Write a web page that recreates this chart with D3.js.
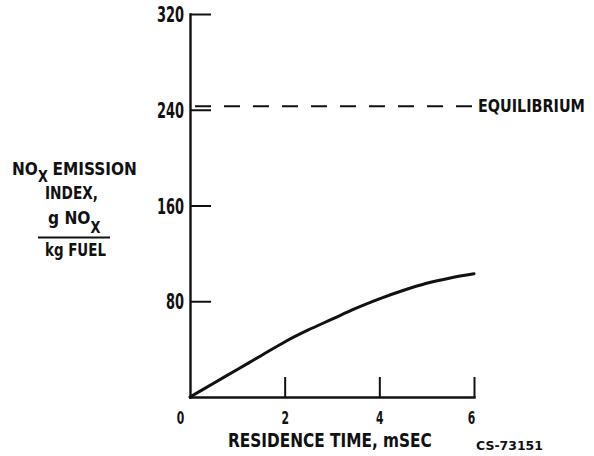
<!DOCTYPE html>
<html>
<head>
<meta charset="utf-8">
<script src="https://cdn.jsdelivr.net/npm/d3@7"></script>
<style>
  html, body { margin: 0; padding: 0; background: #fff; }
  svg { display: block; }
  text { font-family: "Liberation Sans Narrow", "DejaVu Sans Condensed", sans-serif; font-weight: bold; fill: #111; }
</style>
</head>
<body>
<svg id="chart" width="594" height="456"></svg>
<script>
// NOx emission index versus residence time
const residenceTime = [0, 0.5, 1, 1.5, 2, 2.5, 3, 3.5, 4, 4.5, 5, 5.5, 6];
const emissionIndex = [0, 11.5, 23, 34.5, 46, 56, 65, 74, 82, 89, 95, 99.5, 103];
const equilibriumValue = 243;
const xTicks = [0, 2, 4, 6];
const yTicks = [80, 160, 240, 320];

const svg = d3.select("#chart");
const ink = "#111";

// Place a text block with its left edge at (x, y) and squeeze it to the given width.
function fitText(sel, x, y, width) {
  const w = sel.node().getBBox().width;
  sel.attr("transform", `translate(${x},${y}) scale(${width / w},1)`);
  return sel;
}

const x = d3.scaleLinear().domain([0, 6]).range([190, 474]);
const y = d3.scaleLinear().domain([0, 320]).range([397, 14]);

// y axis with inward ticks
const yAxis = svg.append("g")
  .attr("transform", `translate(${x(0)},0)`)
  .call(d3.axisLeft(y).tickValues(yTicks).tickFormat(d3.format("d"))
    .tickSizeInner(-21).tickSizeOuter(0).tickPadding(6));
yAxis.select(".domain").attr("stroke", ink).attr("stroke-width", 2.4);
yAxis.selectAll(".tick line").attr("stroke", ink).attr("stroke-width", 2);
yAxis.selectAll(".tick text").attr("font-size", 21).attr("fill", ink).attr("font-family", null)
  .attr("dy", "0.36em")
  .attr("textLength", d => d >= 100 ? 27 : 18).attr("lengthAdjust", "spacingAndGlyphs");

// x axis with inward ticks
const xAxis = svg.append("g")
  .attr("transform", `translate(0,${y(0)})`)
  .call(d3.axisBottom(x).tickValues(xTicks).tickFormat(d3.format("d"))
    .tickSizeInner(-20).tickSizeOuter(0).tickPadding(15));
xAxis.select(".domain").attr("stroke", ink).attr("stroke-width", 2.4);
xAxis.selectAll(".tick line").attr("stroke", ink).attr("stroke-width", 2)
  .attr("display", d => d === 0 ? "none" : null);
xAxis.selectAll(".tick text").attr("font-size", 17).attr("fill", ink).attr("font-family", null)
  .attr("textLength", 7.5).attr("lengthAdjust", "spacingAndGlyphs")
  .attr("dx", d => d === 0 ? -10 : (d === 6 ? -3 : 0));
svg.selectAll(".domain").attr("stroke-linecap", "square");

// equilibrium level
svg.append("line")
  .attr("x1", x(0) + 5).attr("x2", x(6))
  .attr("y1", y(equilibriumValue)).attr("y2", y(equilibriumValue))
  .attr("stroke", ink).attr("stroke-width", 2).attr("stroke-dasharray", "16,13");
fitText(svg.append("text").attr("font-size", 18).text("EQUILIBRIUM"),
  478, y(equilibriumValue) + 6, 107);

// emission curve
const line = d3.line()
  .x((d, i) => x(residenceTime[i]))
  .y(d => y(d))
  .curve(d3.curveMonotoneX);
svg.append("path")
  .datum(emissionIndex)
  .attr("d", line)
  .attr("fill", "none").attr("stroke", ink).attr("stroke-width", 3)
  .attr("stroke-linecap", "round");

// x axis title
fitText(svg.append("text").attr("font-size", 19).text("RESIDENCE TIME, mSEC"), 228, 447, 204);

// y axis title: NOx emission index, g NOx per kg fuel
const yTitle = svg.append("g").attr("font-size", 18);
const t1 = yTitle.append("text");
t1.append("tspan").text("NO");
t1.append("tspan").attr("dy", 7).attr("font-size", 15).text("X");
t1.append("tspan").attr("dy", -7).attr("dx", 5).text("EMISSION");
fitText(t1, 12, 175, 125);
fitText(yTitle.append("text").text("INDEX,"), 45, 199, 53);
const t3 = yTitle.append("text");
t3.append("tspan").text("g NO");
t3.append("tspan").attr("dy", 9).attr("font-size", 15).text("X");
fitText(t3, 48, 224, 53);
yTitle.append("line").attr("x1", 38).attr("x2", 110).attr("y1", 237.5).attr("y2", 237.5)
  .attr("stroke", ink).attr("stroke-width", 2);
fitText(yTitle.append("text").text("kg FUEL"), 45, 256, 61);

// figure number
fitText(svg.append("text")
  .attr("font-family", "'Liberation Serif', serif").attr("font-size", 13)
  .text("CS-73151"), 476, 450, 67);
</script>
</body>
</html>
